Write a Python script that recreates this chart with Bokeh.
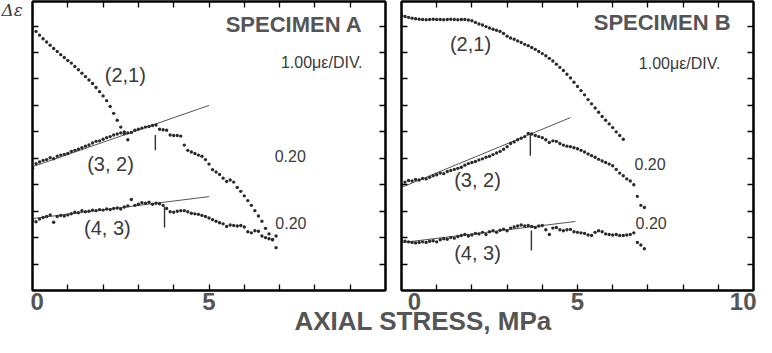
from bokeh.plotting import figure
from bokeh.models import Range1d, LinearAxis, FixedTicker, Label
from bokeh.layouts import column, row
from bokeh.embed import file_html
from bokeh.resources import INLINE

STEP = 0.1  # stress increment between plotted readings, MPa

# ---------------- Specimen A (values in divisions of the y axis) ----------------
A21_start = 0.0
A21_y = [9.94, 9.80, 9.66, 9.52, 9.40, 9.28, 9.15, 9.04, 8.92, 8.81, 8.70, 8.60, 8.47, 8.35,
         8.22, 8.09, 7.96, 7.83, 7.68, 7.52, 7.36, 7.18, 6.96, 6.70, 6.44, 6.18, 5.93, 5.70]

A32_start = 0.0
A32_y = [4.62, 4.80, 4.86, 4.92, 4.95, 5.02, 4.98, 5.08, 5.12, 5.15, 5.18, 5.26, 5.30, 5.34,
         5.40, 5.46, 5.50, 5.58, 5.64, 5.66, 5.72, 5.78, 5.82, 5.88, 5.92, 5.96, 6.00, 5.96,
         5.98, 6.06, 6.10, 6.14, 6.18, 6.20, 6.24, 6.26,
         6.10, 6.08, 6.06, 5.88, 5.86, 5.86, 5.84, 5.50, 5.30, 5.24, 5.18, 5.12, 5.08, 4.95,
         4.78, 4.57, 4.48, 4.39, 4.25, 4.12, 4.18, 4.10, 3.90, 3.75, 3.58, 3.40, 3.22, 3.02,
         2.82, 2.62, 2.35, 2.14, 1.93, 1.62]

A43_start = 0.0
A43_y = [2.66, 2.60, 2.70, 2.76, 2.80, 2.86, 2.58, 2.80, 2.84, 2.82, 2.86, 2.90, 2.96, 2.94,
         3.02, 2.98, 3.00, 3.04, 3.02, 3.06, 3.04, 3.08, 3.06, 3.10, 3.12, 3.08, 3.16, 3.20,
         3.44, 3.22, 3.26, 3.32, 3.30, 3.34, 3.26, 3.30, 3.28, 3.22,
         3.10, 2.98, 2.96, 3.00, 3.02, 3.02, 2.98, 2.92, 2.90, 2.88, 2.84, 2.80, 2.74, 2.68,
         2.62, 2.56, 2.52, 2.42, 2.48, 2.46, 2.44, 2.46, 2.40, 2.22, 2.18, 2.26, 2.24, 2.06,
         2.00, 1.96, 1.92, 2.06]

A_fit32 = ([0.0, 5.0], [4.68, 7.00])
A_fit43 = ([0.0, 5.0], [2.72, 3.55])
A_mark32 = (3.48, 5.30, 5.88)
A_mark43 = (3.74, 2.38, 3.18)

# ---------------- Specimen B ----------------
B21_start = 0.0
B21_y = [10.40, 10.36, 10.33, 10.30, 10.28, 10.26, 10.25, 10.24, 10.25, 10.26, 10.25, 10.25,
         10.24, 10.25, 10.26, 10.25, 10.24, 10.25, 10.25, 10.23, 10.20, 10.14, 10.08, 10.04,
         9.98, 9.93, 9.88, 9.84, 9.80, 9.72, 9.62, 9.55, 9.50, 9.44, 9.38, 9.31, 9.26, 9.19,
         9.12, 9.04, 8.96, 8.88, 8.78, 8.68, 8.56, 8.44, 8.32, 8.18, 8.04, 7.88, 7.72, 7.56,
         7.40, 7.22, 7.06, 6.90, 6.74, 6.58, 6.44, 6.30, 6.16, 6.00, 5.86, 5.72]

B32_start = 0.0
B32_y = [4.02, 4.10, 4.16, 4.14, 4.20, 4.18, 4.24, 4.22, 4.28, 4.34, 4.38, 4.44, 4.42, 4.50,
         4.54, 4.58, 4.62, 4.66, 4.74, 4.80, 4.84, 4.88, 4.94, 4.98, 5.04, 5.08, 5.14, 5.20,
         5.26, 5.34, 5.44, 5.56, 5.62, 5.70, 5.76, 5.82, 5.94,
         5.92, 5.86, 5.82, 5.78, 5.70, 5.60, 5.66, 5.64, 5.56, 5.50, 5.46, 5.44, 5.40, 5.36,
         5.30, 5.24, 5.16, 5.10, 5.04, 4.96, 4.90, 4.84, 4.78, 4.72, 4.58, 4.44, 4.34, 4.22,
         4.14, 4.00, 3.56, 3.22, 3.14]

B43_start = 0.0
B43_y = [1.90, 1.86, 1.84, 1.82, 1.80, 1.82, 1.84, 1.82, 1.86, 1.88, 1.84, 1.92, 1.96, 1.94,
         2.00, 1.98, 2.04, 2.08, 2.12, 2.06, 2.10, 2.16, 2.14, 2.20, 2.12, 2.22, 2.26, 2.20,
         2.28, 2.32, 2.26, 2.36, 2.40, 2.44, 2.48, 2.44, 2.46, 2.42,
         2.38, 2.44, 2.46, 2.30, 2.12, 2.36, 2.38, 2.30, 2.26, 2.30, 2.31, 2.22, 2.20, 2.18,
         2.16, 2.10, 2.08, 2.20, 2.26, 2.22, 2.14, 2.12, 2.10, 2.12, 2.08, 2.08, 2.10, 2.12,
         2.18, 1.82, 1.72, 1.58]

B_fit32 = ([0.0, 4.8], [3.90, 6.54])
B_fit43 = ([0.0, 4.94], [1.81, 2.61])
B_mark32 = (3.66, 5.10, 5.97)
B_mark43 = (3.69, 1.51, 2.27)

X_RANGE = (0, 10)
Y_RANGE = (0, 10.93)
X_TICKS = [1, 2, 3, 4, 5, 6, 7, 8, 9]          # tick marks, MPa
# printed tick numbers: value shown -> where it is set along the axis (as in the figure)
X_LABELS_A = {0: "0", 5: "5"}
X_LABELS_B = {0.37: "0", 5: "5", 9.74: "10"}
Y_MINOR = list(range(1, 11))
Y_LABEL = "Δε"
X_TITLE = "AXIAL STRESS, MPa"

DOT = "#2b2b2b"
TXT = "#3a3a3a"
GRAY = "#555555"
SANS = "Liberation Sans"

ROW_H = 329
TITLE_H = 32
TITLE_OVERLAP = 24


def xs(start, ys):
    return [round(start + i * STEP, 3) for i in range(len(ys))]


def style_axis(ax, major, minor, labels=None):
    ax.ticker = FixedTicker(ticks=major, minor_ticks=minor)
    ax.axis_line_width = 2
    ax.axis_line_color = "black"
    ax.major_tick_in = 0
    ax.major_tick_out = 0
    ax.minor_tick_in = 6
    ax.minor_tick_out = 0
    ax.minor_tick_line_width = 1.3
    ax.major_label_standoff = 2
    if labels:
        ax.major_label_overrides = labels
        ax.major_label_text_font = SANS
        ax.major_label_text_font_style = "bold"
        ax.major_label_text_font_size = "24px"
        ax.major_label_text_color = GRAY


def panel(labels, width, border_left, border_right):
    p = figure(width=width, height=ROW_H, x_range=Range1d(*X_RANGE), y_range=Range1d(*Y_RANGE),
               output_backend="svg", toolbar_location=None,
               min_border_left=border_left, min_border_right=border_right,
               min_border_top=1, min_border_bottom=39)
    p.grid.visible = False
    p.outline_line_color = "black"
    p.outline_line_width = 2
    p.background_fill_color = "white"
    p.border_fill_color = "white"
    style_axis(p.xaxis[0], list(labels.keys()), X_TICKS, labels)
    style_axis(p.yaxis[0], [], Y_MINOR)
    top = LinearAxis()
    style_axis(top, [], X_TICKS)
    p.add_layout(top, "above")
    rgt = LinearAxis()
    style_axis(rgt, [], Y_MINOR)
    p.add_layout(rgt, "right")
    return p


def draw(p, start, ys):
    p.scatter(xs(start, ys), ys, marker="circle", size=3.4, color=DOT, line_width=0)


def fit(p, f):
    p.line(f[0], f[1], line_color=GRAY, line_width=1)


def mark(p, m):
    p.segment(x0=[m[0]], y0=[m[1]], x1=[m[0]], y1=[m[2]], line_color="#333333", line_width=1.4)


def lab(p, x, y, text, size, align="left", style="normal", color=TXT, font=SANS):
    p.add_layout(Label(x=x, y=y, text=text, text_font=font, text_font_size=size,
                       text_font_style=style, text_color=color, text_align=align))


def blank(width, height):
    b = figure(width=width, height=height, x_range=Range1d(0, width), y_range=Range1d(0, height),
               output_backend="svg", toolbar_location=None, min_border=0)
    b.axis.visible = False
    b.grid.visible = False
    b.outline_line_color = None
    b.background_fill_color = None
    b.border_fill_color = None
    return b


# ---------------- y-axis symbol strip ----------------
pD = blank(30, ROW_H)
lab(pD, 1, ROW_H - 21, Y_LABEL, "17px", style="italic", font="DejaVu Serif")

# ---------------- panel A ----------------
pA = panel(X_LABELS_A, 363, 2, 8)
fit(pA, A_fit32)
fit(pA, A_fit43)
draw(pA, A21_start, A21_y)
draw(pA, A32_start, A32_y)
draw(pA, A43_start, A43_y)
mark(pA, A_mark32)
mark(pA, A_mark43)
lab(pA, 9.35, 9.57, "SPECIMEN A", "22px", align="right", style="bold", color=GRAY)
lab(pA, 9.35, 8.32, "1.00με/DIV.", "16px", align="right")
lab(pA, 2.63, 7.75, "(2,1)", "20px", align="center")
lab(pA, 2.21, 4.38, "(3, 2)", "20px", align="center")
lab(pA, 2.12, 1.93, "(4, 3)", "20px", align="center")
lab(pA, 6.86, 4.86, "0.20", "16px")
lab(pA, 6.88, 2.33, "0.20", "16px")

# ---------------- panel B ----------------
pB = panel(X_LABELS_B, 363, 8, 3)
fit(pB, B_fit32)
fit(pB, B_fit43)
draw(pB, B21_start, B21_y)
draw(pB, B32_start, B32_y)
draw(pB, B43_start, B43_y)
mark(pB, B_mark32)
mark(pB, B_mark43)
lab(pB, 9.35, 9.68, "SPECIMEN B", "22px", align="right", style="bold", color=GRAY)
lab(pB, 9.06, 8.28, "1.00με/DIV.", "16px", align="right")
lab(pB, 1.96, 8.92, "(2,1)", "20px", align="center")
lab(pB, 2.16, 3.78, "(3, 2)", "20px", align="center")
lab(pB, 2.16, 1.02, "(4, 3)", "20px", align="center")
lab(pB, 6.62, 4.56, "0.20", "16px")
lab(pB, 6.65, 2.33, "0.20", "16px")

# ---------------- shared x title (transparent strip, tucked under the axes) ----------------
pT = blank(756, TITLE_H)
pT.margin = (-TITLE_OVERLAP, 0, 0, 0)
lab(pT, 294, 1.5, X_TITLE, "26px", style="bold", color=GRAY)

layout = column(row(pD, pA, pB), pT)
open("out.html", "w").write(file_html(layout, INLINE))
